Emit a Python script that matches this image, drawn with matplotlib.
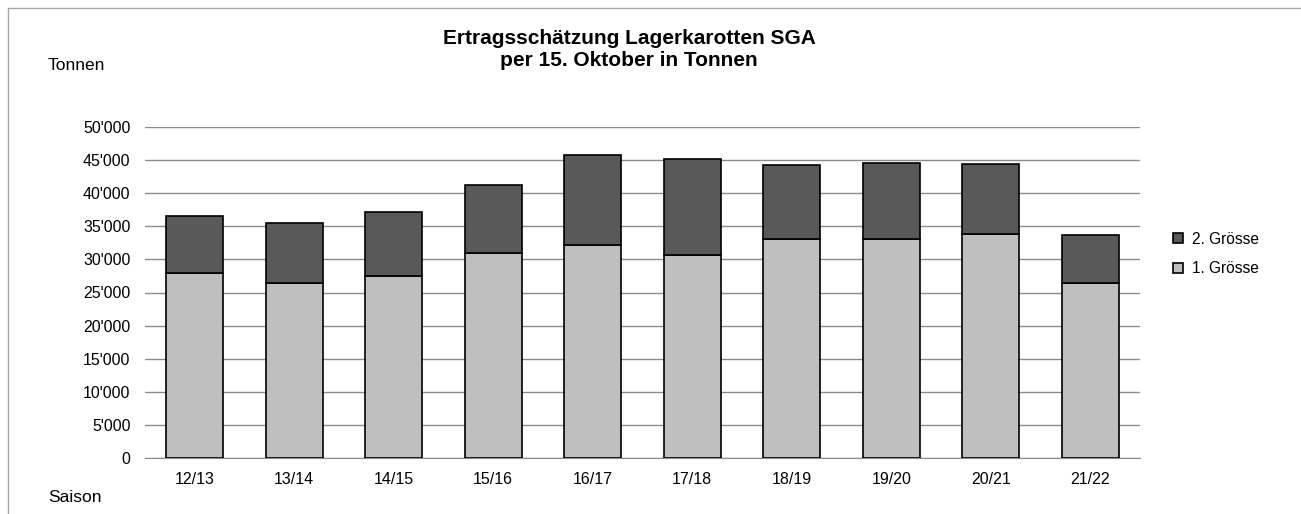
import matplotlib
matplotlib.use("Agg")
import matplotlib.pyplot as plt
from matplotlib.patches import Rectangle
from matplotlib.ticker import FuncFormatter, MultipleLocator

plt.rcParams['font.family'] = ['Liberation Sans', 'DejaVu Sans']

seasons = ["12/13", "13/14", "14/15", "15/16", "16/17", "17/18", "18/19", "19/20", "20/21", "21/22"]
groesse1 = [27900, 26500, 27500, 31000, 32100, 30700, 33100, 33100, 33900, 26500]
totals = [36600, 35500, 37100, 41300, 45800, 45200, 44200, 44600, 44400, 33700]
groesse2 = [t - a for t, a in zip(totals, groesse1)]

W, H = 1301, 514
fig = plt.figure(figsize=(W / 100, H / 100), dpi=100)

# outer border (cropped chart frame)
fig.patches.append(Rectangle((8 / W, -0.1), 1.2, (H - 8) / H + 0.1, transform=fig.transFigure,
                             fill=False, edgecolor="#a6a6a6", linewidth=1.0))

left, right, bottom, top = 145, 1140, 458, 127
ax = fig.add_axes([left / W, 1 - bottom / H, (right - left) / W, (bottom - top) / H])

x = range(len(seasons))
ax.bar(x, groesse1, width=0.57, color="#bfbfbf", edgecolor="black", linewidth=1.2, zorder=3, label="1. Grösse")
ax.bar(x, groesse2, bottom=groesse1, width=0.57, color="#595959", edgecolor="black", linewidth=1.2, zorder=3, label="2. Grösse")

ax.set_xlim(-0.5, len(seasons) - 0.5)
ax.set_ylim(0, 50000)
ax.yaxis.set_major_locator(MultipleLocator(5000))
ax.yaxis.set_major_formatter(FuncFormatter(lambda v, p: f"{int(v):,}".replace(",", "'")))
ax.set_xticks(list(x))
ax.set_xticklabels(seasons)
ax.grid(axis="y", color="#8c8c8c", linewidth=1.0, zorder=0)
for s in ["top", "right", "left"]:
    ax.spines[s].set_visible(False)
ax.spines["bottom"].set_color("#8c8c8c")
ax.tick_params(axis="both", length=0, labelsize=11.5, colors="black")
ax.tick_params(axis="y", pad=10.5)
ax.tick_params(axis="x", pad=10)

fig.text(629 / W, 1 - 38 / H, "Ertragsschätzung Lagerkarotten SGA", ha="center", va="center",
         fontsize=15, fontweight="bold")
fig.text(629 / W, 1 - 60 / H, "per 15. Oktober in Tonnen", ha="center", va="center",
         fontsize=15, fontweight="bold")
fig.text(48 / W, 1 - 65 / H, "Tonnen", ha="left", va="center", fontsize=12.5)
fig.text(48 / W, 1 - 498 / H, "Saison", ha="left", va="center", fontsize=12.5)

handles, labels = ax.get_legend_handles_labels()
leg = fig.legend(handles[::-1], labels[::-1], loc="center left", bbox_to_anchor=(1159 / W, 1 - 254 / H),
                 frameon=False, fontsize=11.2, handlelength=0.65, handleheight=0.65, labelspacing=0.95,
                 handletextpad=0.55)

fig.savefig("out.png", dpi=100)
